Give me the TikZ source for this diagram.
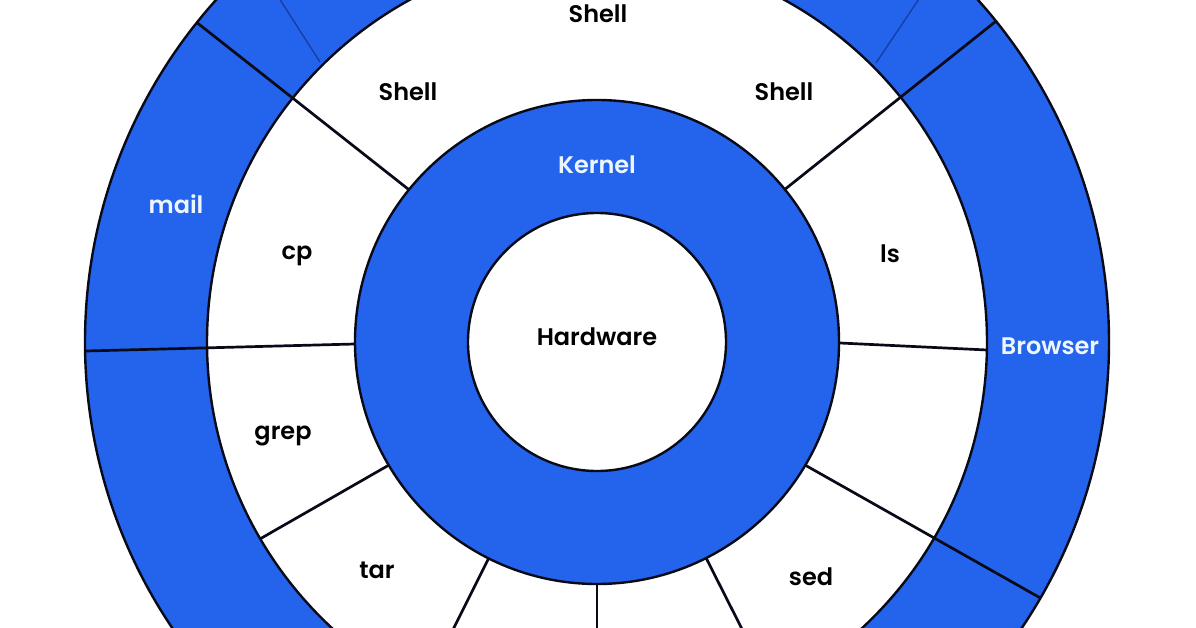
\documentclass[tikz,border=0pt]{standalone}
\usepackage{fontspec}
\setmainfont{Poppins}[BoldFont={Poppins SemiBold}]
\definecolor{ringblue}{RGB}{36,99,235}
\definecolor{edgec}{RGB}{8,10,24}
\definecolor{thinblue}{RGB}{25,60,160}
\definecolor{lighttext}{RGB}{236,246,255}
\begin{document}
\begin{tikzpicture}[x=1pt,y=-1pt,
  bluedisc/.style={fill=ringblue,draw=edgec,line width=2.4pt},
  whitedisc/.style={fill=white,draw=edgec,line width=2.4pt},
  divider/.style={draw=edgec,line width=2.7pt},
  thindiv/.style={draw=thinblue,line width=1.3pt},
  lbl/.style={font=\fontsize{24}{28}\selectfont\bfseries,text=black,inner sep=0pt},
  wlbl/.style={lbl,text=lighttext}]
\useasboundingbox (0,0) rectangle (1196,628);
\clip (0,0) rectangle (1196,628);
\fill[white] (0,0) rectangle (1196,628);
\coordinate (C) at (597,342);
% rings
\path[bluedisc] (C) circle[radius=512];
\path[whitedisc] (C) circle[radius=390];
\path[bluedisc] (C) circle[radius=242];
\path[whitedisc] (C) circle[radius=129];
% divider end points (image angles negated because y points down)
\coordinate (ulA) at ([shift={(C)}]-141.0:242);
\coordinate (ulB) at ([shift={(C)}]-141.4:512);
\coordinate (urA) at ([shift={(C)}]-39.1:242);
\coordinate (urB) at ([shift={(C)}]-38.8:512);
\coordinate (lA) at (355,344);
\coordinate (lB) at (86,351);
\coordinate (rA) at (840,343);
\coordinate (rB) at (987,350);
\coordinate (llA) at ([shift={(C)}]-210.6:242);
\coordinate (llB) at ([shift={(C)}]-210.3:390);
\coordinate (tA) at ([shift={(C)}]-243.4:242);
\coordinate (tB) at ([shift={(C)}]-243.4:400);
\coordinate (bA) at ([shift={(C)}]-270:242);
\coordinate (bB) at ([shift={(C)}]-270:400);
\coordinate (sA) at ([shift={(C)}]-296.8:242);
\coordinate (sB) at ([shift={(C)}]-296.8:400);
\coordinate (lrA) at ([shift={(C)}]30.6:242);
\coordinate (lrB) at ([shift={(C)}]30.0:512);
\coordinate (tlA) at (320,62);
\coordinate (tlB) at (270,-16);
\coordinate (trA) at (876,63);
\coordinate (trB) at (929,-16);
% thin lines in the outer ring
\draw[thindiv] (tlA) -- (tlB);
\draw[thindiv] (trA) -- (trB);
% dividers
\draw[divider] (ulA) -- (ulB);
\draw[divider] (urA) -- (urB);
\draw[divider] (lA) -- (lB);
\draw[divider] (rA) -- (rB);
\draw[divider] (llA) -- (llB);
\draw[divider] (tA) -- (tB);
\draw[divider] (bA) -- (bB);
\draw[divider] (sA) -- (sB);
\draw[divider] (lrA) -- (lrB);
% labels
\node[lbl] (shellTop) at (598,14) {Shell};
\node[lbl] (shellL) at (408,92) {Shell};
\node[lbl] (shellR) at (784,92) {Shell};
\node[wlbl] (kernel) at (597,165) {Kernel};
\node[wlbl] (mail) at (176,204) {mail};
\node[lbl] (cp) at (297,256) {cp};
\node[lbl] (ls) at (890,254) {ls};
\node[lbl] (hw) at (597,337) {Hardware};
\node[wlbl] (browser) at (1050,346) {Browser};
\node[lbl] (grep) at (283,436) {grep};
\node[lbl] (tar) at (377,570) {tar};
\node[lbl] (sed) at (811,577) {sed};
\end{tikzpicture}
\end{document}
